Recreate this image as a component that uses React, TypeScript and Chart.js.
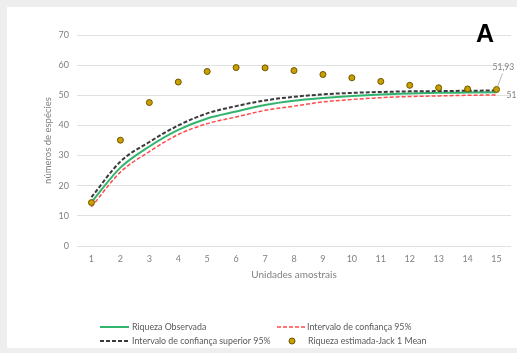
import React, { useEffect, useRef } from "react";
import { Chart, registerables } from "chart.js";

Chart.register(...registerables);

const categories = ["1", "2", "3", "4", "5", "6", "7", "8", "9", "10", "11", "12", "13", "14", "15"];
const observed = [14.5, 26, 33, 38.5, 42.3, 44.6, 46.8, 48.2, 49.1, 49.8, 50.3, 50.6, 50.8, 50.9, 51];
const upper95 = [16.2, 28, 34.5, 40, 44, 46.4, 48.3, 49.5, 50.3, 50.8, 51.1, 51.3, 51.4, 51.5, 51.6];
const lower95 = [13, 24.5, 31.3, 37, 40.6, 42.8, 45, 46.4, 47.8, 48.6, 49.2, 49.6, 49.8, 50, 50.1];
const jack1 = [14.4, 35.1, 47.6, 54.4, 57.9, 59.2, 59.1, 58.2, 56.9, 55.8, 54.6, 53.3, 52.5, 52.1, 51.93];
const yTicks = [0, 10, 20, 30, 40, 50, 60, 70];

const GREEN = "#33b46e";
const RED = "#ff4a4a";
const BLACK = "#3a3a3a";
const GOLD = "#c9a000";
const GOLD_BORDER = "#6e5600";
const TEXT = "#808080";
const FONT = "Lato, 'Open Sans', sans-serif";

const decorPlugin = {
  id: "decor",
  beforeDraw(chart: any) {
    const ctx = chart.ctx;
    ctx.save();
    ctx.fillStyle = "#eeeeee";
    ctx.fillRect(0, 0, chart.width, chart.height);
    ctx.fillStyle = "#ffffff";
    ctx.fillRect(7, 7, chart.width - 7, chart.height - 12);
    ctx.restore();
  },
  afterDraw(chart: any) {
    const ctx = chart.ctx;
    const xs = chart.scales.x;
    const ys = chart.scales.y;
    ctx.save();
    ctx.fillStyle = "#000";
    ctx.font = "bold 25px 'Liberation Sans', Arial, sans-serif";
    ctx.textAlign = "center";
    ctx.textBaseline = "middle";
    ctx.fillText("A", 485, 35);

    const last = categories.length - 1;
    const px = xs.getPixelForValue(last);
    const pyJ = ys.getPixelForValue(jack1[last]);
    const pyO = ys.getPixelForValue(observed[last]);
    ctx.font = `8.5px ${FONT}`;
    ctx.fillStyle = TEXT;
    ctx.textAlign = "left";
    ctx.fillText("51,93", px - 4, pyJ - 22);
    ctx.fillText("51", px + 10, pyO + 3);
    ctx.strokeStyle = "#a6a6a6";
    ctx.lineWidth = 0.8;
    ctx.beginPath();
    ctx.moveTo(px + 6, pyJ - 16);
    ctx.lineTo(px + 1, pyJ - 3);
    ctx.stroke();

    ctx.font = `8.8px ${FONT}`;
    ctx.fillStyle = "#595959";
    ctx.textBaseline = "middle";
    const r1 = 327;
    const r2 = 341;
    ctx.strokeStyle = GREEN;
    ctx.lineWidth = 2;
    ctx.setLineDash([]);
    ctx.beginPath();
    ctx.moveTo(100, r1);
    ctx.lineTo(129, r1);
    ctx.stroke();
    ctx.fillText("Riqueza Observada", 132, r1);
    ctx.strokeStyle = RED;
    ctx.lineWidth = 1.5;
    ctx.setLineDash([4, 2]);
    ctx.beginPath();
    ctx.moveTo(277, r1);
    ctx.lineTo(305, r1);
    ctx.stroke();
    ctx.fillText("Intervalo de confiança 95%", 307, r1);
    ctx.strokeStyle = BLACK;
    ctx.lineWidth = 2;
    ctx.beginPath();
    ctx.moveTo(100, r2);
    ctx.lineTo(130, r2);
    ctx.stroke();
    ctx.setLineDash([]);
    ctx.fillText("Intervalo de confiança superior 95%", 132, r2);
    ctx.fillStyle = GOLD;
    ctx.strokeStyle = GOLD_BORDER;
    ctx.lineWidth = 1;
    ctx.beginPath();
    ctx.arc(292, r2, 3, 0, Math.PI * 2);
    ctx.fill();
    ctx.stroke();
    ctx.fillStyle = "#595959";
    ctx.fillText("Riqueza estimada-Jack 1 Mean", 308, r2);
    ctx.restore();
  },
};

export default function App() {
  const ref = useRef<HTMLCanvasElement | null>(null);
  useEffect(() => {
    document.body.style.margin = "0";
    if (!ref.current) return;
    const chart = new Chart(ref.current, {
      type: "line",
      data: {
        labels: categories,
        datasets: [
          {
            label: "Riqueza estimada-Jack 1 Mean",
            data: jack1,
            showLine: false,
            pointRadius: 3,
            pointBackgroundColor: GOLD,
            pointBorderColor: GOLD_BORDER,
            pointBorderWidth: 1,
            borderColor: GOLD_BORDER,
            backgroundColor: GOLD,
          },
          {
            label: "Intervalo de confiança superior 95%",
            data: upper95,
            borderColor: BLACK,
            borderWidth: 2,
            borderDash: [4, 2],
            pointRadius: 0,
            cubicInterpolationMode: "monotone",
            fill: false,
          },
          {
            label: "Riqueza Observada",
            data: observed,
            borderColor: GREEN,
            borderWidth: 2,
            pointRadius: 0,
            cubicInterpolationMode: "monotone",
            fill: false,
          },
          {
            label: "Intervalo de confiança 95%",
            data: lower95,
            borderColor: RED,
            borderWidth: 1.5,
            borderDash: [4, 2],
            pointRadius: 0,
            cubicInterpolationMode: "monotone",
            fill: false,
          },
        ],
      },
      options: {
        responsive: false,
        animation: false,
        layout: { padding: { left: 38, right: 6, top: 35, bottom: 67 } },
        plugins: { legend: { display: false }, tooltip: { enabled: false } },
        scales: {
          x: {
            type: "category",
            offset: true,
            grid: { display: false, drawTicks: false },
            border: { display: false },
            ticks: { color: TEXT, font: { family: FONT, size: 9 }, padding: 8, maxRotation: 0 },
            title: {
              display: true,
              text: "Unidades amostrais",
              color: TEXT,
              font: { family: FONT, size: 10 },
              padding: { top: 0, bottom: 5 },
            },
            afterFit(s: any) {
              s.height = 40;
            },
          },
          y: {
            min: 0,
            max: 70,
            afterBuildTicks(s: any) {
              s.ticks = yTicks.map((v) => ({ value: v }));
            },
            grid: { color: "#e0e0e0", lineWidth: 1, drawTicks: false },
            border: { display: false },
            ticks: { color: TEXT, font: { family: FONT, size: 9 }, padding: 8 },
            title: {
              display: true,
              text: "números de espécies",
              color: TEXT,
              font: { family: FONT, size: 9.5 },
              padding: { top: 4, bottom: 0 },
            },
            afterFit(s: any) {
              s.width = 39;
            },
          },
        },
      },
      plugins: [decorPlugin],
    });
    return () => chart.destroy();
  }, []);
  return <canvas ref={ref} width={517} height={353} style={{ display: "block", width: 517, height: 353 }} />;
}
